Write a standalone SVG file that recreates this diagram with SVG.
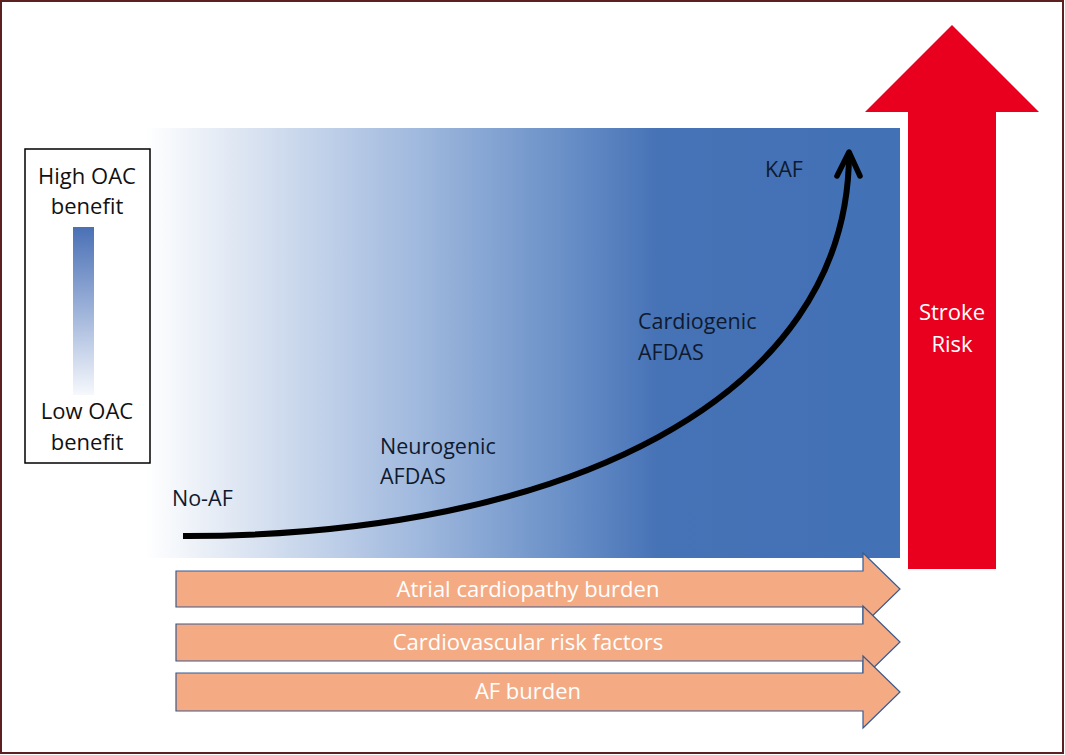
<svg xmlns="http://www.w3.org/2000/svg" width="1065" height="755" viewBox="0 0 1065 755">
  <defs>
    <linearGradient id="bgGrad" x1="145" y1="0" x2="900" y2="0" gradientUnits="userSpaceOnUse">
      <stop offset="0" stop-color="#ffffff"/>
      <stop offset="0.12" stop-color="#dfe7f3"/>
      <stop offset="0.35" stop-color="#a3bbdf"/>
      <stop offset="0.55" stop-color="#6b91c8"/>
      <stop offset="0.68" stop-color="#4672b6"/>
      <stop offset="1" stop-color="#4371b5"/>
    </linearGradient>
    <linearGradient id="legGrad" x1="0" y1="0" x2="0" y2="1">
      <stop offset="0" stop-color="#4a70b5"/>
      <stop offset="0.45" stop-color="#95acd6"/>
      <stop offset="1" stop-color="#f6f8fc"/>
    </linearGradient>
  </defs>
  <style>
    .lbl { font-family: "Open Sans", "Liberation Sans", sans-serif; font-size: 21.5px; fill: #0f1a2e; }
    .leg { font-family: "Open Sans", "Liberation Sans", sans-serif; font-size: 22px; fill: #111111; text-anchor: middle; }
    .wht { font-family: "Open Sans", "Liberation Sans", sans-serif; font-size: 22px; fill: #ffffff; text-anchor: middle; }
    .band { fill: #f4ab84; stroke: #3a5a8e; stroke-width: 1.2; }
    .curve { fill: none; stroke: #000000; stroke-width: 6; stroke-linecap: butt; }
    .head { fill: none; stroke: #000000; stroke-width: 5.5; stroke-linecap: round; stroke-linejoin: round; }
  </style>

  <rect x="0" y="0" width="1065" height="755" fill="#ffffff"/>
  <rect x="1" y="1" width="1062" height="752" fill="none" stroke="#5c2020" stroke-width="2"/>

  <g id="spectrum">
    <rect x="145" y="128" width="755" height="430" fill="url(#bgGrad)"/>
  </g>

  <g id="legend">
    <rect x="25" y="149" width="125" height="314" fill="#ffffff" stroke="#000000" stroke-width="1.5"/>
    <text class="leg" x="87" y="184">High OAC</text>
    <text class="leg" x="87" y="214">benefit</text>
    <rect x="73" y="227" width="21" height="168" fill="url(#legGrad)"/>
    <text class="leg" x="87" y="419">Low OAC</text>
    <text class="leg" x="87" y="450">benefit</text>
  </g>

  <g id="stroke-risk">
    <polygon points="952,25 1039,112 996,112 996,569 908,569 908,112 865,112" fill="#e8001e"/>
    <text class="wht" x="952" y="320">Stroke</text>
    <text class="wht" x="952" y="352">Risk</text>
  </g>

  <g id="label-noaf"><text class="lbl" x="172" y="506">No-AF</text></g>
  <g id="label-neuro">
    <text class="lbl" x="380" y="454">Neurogenic</text>
    <text class="lbl" x="380" y="484">AFDAS</text>
  </g>
  <g id="label-cardio">
    <text class="lbl" x="638" y="329">Cardiogenic</text>
    <text class="lbl" x="638" y="360">AFDAS</text>
  </g>
  <g id="label-kaf"><text class="lbl" x="765" y="177">KAF</text></g>

  <g id="connectors">
    <path class="curve" d="M183,536 C560,537 850,400 849,152"/>
    <polyline class="head" points="837,176 849,152 860,176"/>
  </g>

  <g id="band-atrial">
    <polygon class="band" points="176,571 863,571 863,553 900,589 863,625 863,607 176,607"/>
    <text class="wht" x="528" y="597">Atrial cardiopathy burden</text>
  </g>
  <g id="band-cv">
    <polygon class="band" points="176,624 863,624 863,606 900,642 863,678 863,661 176,661"/>
    <text class="wht" x="528" y="650">Cardiovascular risk factors</text>
  </g>
  <g id="band-af">
    <polygon class="band" points="176,673 863,673 863,656 900,692 863,728 863,711 176,711"/>
    <text class="wht" x="528" y="699">AF burden</text>
  </g>
</svg>
